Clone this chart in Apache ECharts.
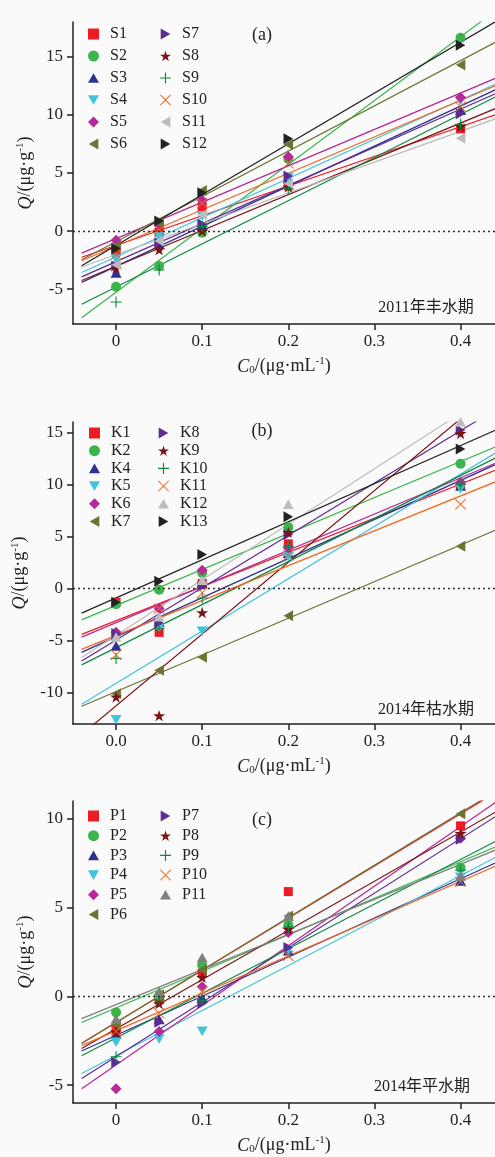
<!DOCTYPE html>
<html>
<head>
<meta charset="utf-8">
<script src="https://cdn.jsdelivr.net/npm/echarts@6/dist/echarts.min.js"></script>
<style>
  html, body { margin: 0; padding: 0; background: #fafafa; }
  #chart { width: 495px; height: 1157px; }
</style>
</head>
<body>
<div id="chart"></div>
<script>
// initial concentrations C0 (µg/mL), same for every sample
const c0 = [0, 0.05, 0.1, 0.2, 0.4];
const xTicks = [0, 0.1, 0.2, 0.3, 0.4];

// (a) 2011 wet season
const namesA = ['S1', 'S2', 'S3', 'S4', 'S5', 'S6', 'S7', 'S8', 'S9', 'S10', 'S11', 'S12'];
const qA = [
  [-1.7, -0.1, 2.1, 3.9, 8.8],
  [-4.8, -3.0, -0.15, 6.2, 16.65],
  [-3.6, -1.1, 0.5, 4.5, 10.4],
  [-2.4, -0.5, 1.3, 4.6, 11.2],
  [-0.8, 0.5, 2.65, 6.4, 11.5],
  [-1.3, 0.7, 3.5, 7.45, 14.3],
  [-3.0, -1.0, 0.6, 4.75, 10.1],
  [-3.2, -1.6, 0.0, 3.8, 9.0],
  [-6.1, -3.35, 0.4, 3.65, 9.2],
  [-2.0, 0.1, 2.4, 5.85, 10.7],
  [-2.9, -0.85, 1.4, 4.1, 8.0],
  [-1.5, 0.86, 3.3, 7.95, 16.0]
];
const yTicksA = [-5, 0, 5, 10, 15];

// (b) 2014 dry season
const namesB = ['K1', 'K2', 'K4', 'K5', 'K6', 'K7', 'K8', 'K9', 'K10', 'K11', 'K12', 'K13'];
const qB = [
  [-1.3, -4.2, 0.5, 4.3, 9.9],
  [-1.5, -0.1, 1.5, 5.9, 12.0],
  [-5.5, -3.2, 0.5, 3.4, 9.85],
  [-12.6, -3.75, -4.1, 3.05, 9.6],
  [-4.2, -1.9, 1.76, 3.9, 10.2],
  [-10.1, -7.85, -6.6, -2.6, 4.07],
  [-4.3, -3.3, 0.2, 5.2, 15.2],
  [-10.4, -12.2, -2.3, 5.4, 14.9],
  [-6.7, -3.8, -0.9, 4.07, 10.0],
  [-6.35, -1.9, -0.4, 3.2, 8.1],
  [-4.65, -2.7, 0.8, 8.1, 16.0],
  [-1.3, 0.7, 3.27, 6.9, 13.4]
];
const yTicksB = [-10, -5, 0, 5, 10, 15];

// (c) 2014 normal season
const namesC = ['P1', 'P2', 'P3', 'P4', 'P5', 'P6', 'P7', 'P8', 'P9', 'P10', 'P11'];
const qC = [
  [-1.9, -0.2, 1.3, 5.9, 9.6],
  [-0.9, 0.05, 1.76, 4.03, 7.25],
  [-2.1, -1.3, -0.1, 2.57, 6.5],
  [-2.58, -2.4, -1.97, 2.6, 6.7],
  [-5.2, -1.97, 0.55, 3.6, 8.9],
  [-1.6, 0.1, 1.5, 4.53, 10.28],
  [-3.7, -1.46, -0.4, 2.75, 8.84],
  [-2.0, -0.4, 1.07, 3.78, 9.18],
  [-3.4, -0.2, -0.24, 3.9, 7.1],
  [-1.97, -0.95, 0.3, 2.29, 6.45],
  [-1.27, 0.28, 2.19, 4.53, 6.78]
];
const yTicksC = [-5, 0, 5, 10];

const SERIF = "'Liberation Serif','Noto Sans CJK SC',serif";
const STAR = 'path://M50,0L61.2,34.5L97.6,34.5L68.2,55.9L79.4,90.5L50,69.1L20.6,90.5L31.8,55.9L2.4,34.5L38.8,34.5Z';
const PLUS = 'path://M45,0H55V45H100V55H55V100H45V55H0V45H45Z';
const CROSS = 'path://M6,0L50,44L94,0L100,6L56,50L100,94L94,100L50,56L6,100L0,94L44,50L0,6Z';
const TRI_UP = 'path://M50,0L100,87L0,87Z';
const TRI_DOWN = 'path://M0,0L100,0L50,87Z';
const TRI_LEFT = 'path://M0,50L87,0L87,100Z';
const TRI_RIGHT = 'path://M87,50L0,0L0,100Z';

// marker styles: [symbol, size, color]
const mk = {
  red:    ['rect', 9, '#ed1c24'],
  green:  ['circle', 10, '#39b54a'],
  blue:   [TRI_UP, 11, '#2e3192'],
  cyan:   [TRI_DOWN, 11, '#41c3dc'],
  mag:    ['diamond', 11, '#b52a97'],
  olive:  [TRI_LEFT, 11, '#6b7433'],
  purple: [TRI_RIGHT, 11, '#5c2d91'],
  star:   [STAR, 12, '#7b1416'],
  plus:   [PLUS, 11, '#0b8a3e'],
  cross:  [CROSS, 11, '#f26522'],
  lgrayL: [TRI_LEFT, 11, '#bcbcbc'],
  blackR: [TRI_RIGHT, 11, '#222222'],
  lgrayU: [TRI_UP, 11, '#bdbdbd'],
  grayU:  [TRI_UP, 11, '#808080']
};
const styleA = ['red', 'green', 'blue', 'cyan', 'mag', 'olive', 'purple', 'star', 'plus', 'cross', 'lgrayL', 'blackR'];
const styleB = ['red', 'green', 'blue', 'cyan', 'mag', 'olive', 'purple', 'star', 'plus', 'cross', 'lgrayU', 'blackR'];
const styleC = ['red', 'green', 'blue', 'cyan', 'mag', 'olive', 'purple', 'star', 'plus', 'cross', 'grayU'];

function linfit(xs, ys) {
  const n = xs.length;
  const mx = xs.reduce((a, b) => a + b, 0) / n;
  const my = ys.reduce((a, b) => a + b, 0) / n;
  let sxy = 0, sxx = 0;
  xs.forEach((x, i) => { sxy += (x - mx) * (ys[i] - my); sxx += (x - mx) * (x - mx); });
  const k = sxy / sxx;
  return [my - k * mx, k];
}

const series = [];
function addPanel(idx, names, values, styles) {
  names.forEach((name, i) => {
    const s = mk[styles[i]];
    const [a, k] = linfit(c0, values[i]);
    const line = {
      name: name + '_fit', type: 'line', xAxisIndex: idx, yAxisIndex: idx,
      showSymbol: false, symbol: 'none', silent: true, z: 2,
      lineStyle: { color: s[2], width: 1.2 },
      data: [-0.04, 0.45].map(x => [x, a + k * x])
    };
    if (i === 0) {
      line.markLine = {
        silent: true, symbol: 'none', label: { show: false },
        lineStyle: { type: [2, 3], color: '#333', width: 1.3 },
        data: [{ yAxis: 0 }]
      };
    }
    series.push(line);
    series.push({
      name: name, type: 'scatter', xAxisIndex: idx, yAxisIndex: idx, z: 3,
      symbol: s[0], symbolSize: s[1], symbolKeepAspect: true,
      itemStyle: { color: s[2], opacity: 1 },
      data: c0.map((x, j) => [x, values[i][j]])
    });
  });
}
addPanel(0, namesA, qA, styleA);
addPanel(1, namesB, qB, styleB);
addPanel(2, namesC, qC, styleC);

const grids = [
  { left: 73, top: 22, width: 423, height: 302 },
  { left: 73, top: 422, width: 423, height: 302 },
  { left: 73, top: 801, width: 423, height: 302 }
];
const yRanges = [[-8, 18, yTicksA], [-13, 16, yTicksB], [-6, 11, yTicksC]];
const axisLineStyle = { color: '#222', width: 1.5 };

const xAxes = grids.map((g, i) => ({
  type: 'value', gridIndex: i, min: -0.05, max: 0.44,
  axisLine: { show: true, onZero: false, lineStyle: axisLineStyle },
  axisTick: { show: true, length: 6, customValues: xTicks, lineStyle: axisLineStyle },
  splitLine: { show: false },
  axisLabel: {
    customValues: xTicks, margin: 9, color: '#222', fontFamily: SERIF, fontSize: 17,
    formatter: v => (v === 0 ? (i === 1 ? '0.0' : '0') : v.toFixed(1))
  },
  name: '{i|C}{sub|0}/(μg·mL{sup|-1})',
  nameLocation: 'middle', nameGap: 32,
  nameTextStyle: {
    color: '#222', fontFamily: SERIF, fontSize: 18,
    rich: {
      i: { fontStyle: 'italic', fontFamily: SERIF, fontSize: 18, lineHeight: 20, verticalAlign: 'bottom' },
      sub: { fontFamily: SERIF, fontSize: 11, lineHeight: 20, verticalAlign: 'bottom' },
      sup: { fontFamily: SERIF, fontSize: 11, lineHeight: 20, verticalAlign: 'top' }
    }
  }
}));

const yAxes = yRanges.map((r, i) => ({
  type: 'value', gridIndex: i, min: r[0], max: r[1],
  axisLine: { show: true, onZero: false, lineStyle: axisLineStyle },
  axisTick: { show: true, length: 6, customValues: r[2], lineStyle: axisLineStyle },
  splitLine: { show: false },
  axisLabel: { customValues: r[2], margin: 10, color: '#222', fontFamily: SERIF, fontSize: 17 },
  name: '{i|Q}/(μg·g{sup|-1})',
  nameLocation: 'middle', nameGap: 38,
  nameTextStyle: {
    color: '#222', fontFamily: SERIF, fontSize: 18,
    rich: {
      i: { fontStyle: 'italic', fontFamily: SERIF, fontSize: 18, lineHeight: 20, verticalAlign: 'bottom' },
      sup: { fontFamily: SERIF, fontSize: 11, lineHeight: 20, verticalAlign: 'top' }
    }
  }
}));

function legendCol(names, left, top, gap) {
  return {
    orient: 'vertical', left: left, top: top, padding: 0, itemGap: gap,
    itemWidth: 11, itemHeight: 11, selectedMode: false,
    textStyle: { color: '#222', fontFamily: SERIF, fontSize: 16, lineHeight: 15, padding: [0, 0, 0, 6] },
    data: names
  };
}
const legends = [
  legendCol(namesA.slice(0, 6), 88, 26, 6),
  legendCol(namesA.slice(6), 160, 26, 6),
  legendCol(namesB.slice(0, 6), 89, 425, 1.7),
  legendCol(namesB.slice(6), 158, 425, 1.7),
  legendCol(namesC.slice(0, 6), 88, 808, 3.7),
  legendCol(namesC.slice(6), 160, 808, 3.7)
];

function label(text, x, y, size) {
  return {
    type: 'text', x: x, y: y, silent: true,
    style: { text: text, fill: '#222', font: size + 'px ' + SERIF, align: 'center', verticalAlign: 'middle', textAlign: 'center', textVerticalAlign: 'middle' }
  };
}

const chart = echarts.init(document.getElementById('chart'));
chart.setOption({
  backgroundColor: '#fafafa',
  animation: false,
  grid: grids,
  xAxis: xAxes,
  yAxis: yAxes,
  legend: legends,
  series: series,
  graphic: [
    label('(a)', 262, 35, 18),
    label('(b)', 262, 431, 18),
    label('(c)', 262, 820, 18),
    label('2011年丰水期', 426, 308, 16),
    label('2014年枯水期', 426, 710, 16),
    label('2014年平水期', 422, 1087, 16)
  ]
});
</script>
</body>
</html>
